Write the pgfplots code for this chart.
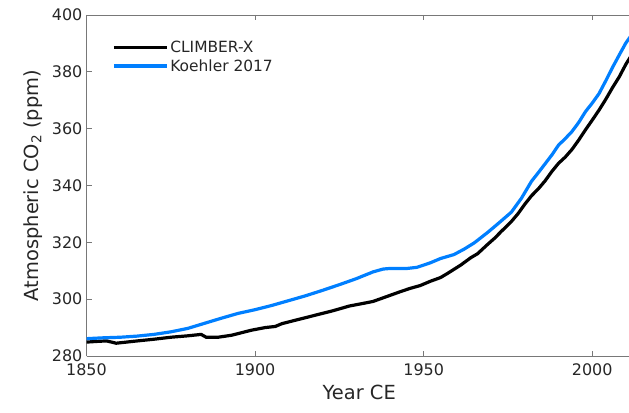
\documentclass[border=0pt]{standalone}
\usepackage{fontspec}
\setmainfont{DejaVu Sans}
\usepackage{pgfplots}
\pgfplotsset{compat=1.18}
\definecolor{koehler}{RGB}{0,127,255}
\definecolor{axgray}{RGB}{120,120,120}
\definecolor{txtgray}{RGB}{38,38,38}

\pgfplotstableread{
year co2
1850 284.9
1854 285.2
1856 285.3
1858.8 284.5
1865 285.3
1870 285.9
1875 286.6
1880 287.1
1884 287.6
1885.5 286.6
1889 286.6
1893 287.3
1896 288.2
1899 289.1
1903 290.0
1906 290.4
1908 291.4
1913 292.9
1918 294.4
1923 295.9
1928 297.6
1932 298.5
1935 299.2
1939 300.9
1943 302.6
1946 303.8
1949 304.8
1952 306.3
1955 307.6
1957 309.0
1959 310.5
1961 312.0
1964 314.6
1966 316.0
1969 319.3
1971 321.4
1973 323.8
1976 327.3
1978 330.1
1980 333.4
1982 336.4
1984 338.8
1986 341.6
1988 344.9
1990 347.8
1992 350.0
1994 352.7
1996 356.0
1998 359.6
2000 363.0
2002 366.5
2004 370.3
2006 374.4
2008 378.2
2010 382.7
2012 386.5
}\climber

\pgfplotstableread{
year co2
1850 286.1
1855 286.4
1860 286.6
1865 287.0
1870 287.6
1875 288.5
1880 289.7
1885 291.5
1890 293.3
1895 295.0
1900 296.3
1905 297.8
1910 299.5
1915 301.2
1920 303.1
1925 305.1
1930 307.2
1935 309.6
1938 310.6
1940 310.8
1945 310.8
1948 311.2
1952 312.8
1955 314.3
1959 315.7
1962 317.6
1965 319.8
1969 323.5
1972 326.5
1976 330.6
1979 335.5
1982 341.5
1984 344.5
1988 350.7
1990 354.2
1992 356.5
1994 359.0
1996 362.2
1998 366.0
2000 369.0
2002 372.3
2004 376.8
2006 381.5
2008 385.9
2010 390.2
2012 393.5
}\koehler

\begin{document}
\begin{tikzpicture}
\begin{axis}[
 scale only axis,
 width=545.5bp,height=341bp,
 xmin=1850,xmax=2011.8,ymin=280,ymax=400,
 axis y line*=left,
 y axis line style={-},
 xtick={1850,1900,1950,2000},
 ytick={280,300,...,400},
 tick align=inside,
 major tick length=5bp,
 axis line style={axgray,line width=0.7bp},
 tick style={axgray,line width=0.7bp},
 /pgf/number format/assume math mode=true,
 /pgf/number format/1000 sep={},
 tick label style={font=\fontsize{16}{19}\selectfont,text=txtgray,inner sep=1bp},
 xticklabel style={yshift=-6bp},
 yticklabel style={xshift=-3bp},
 label style={font=\fontsize{19.5}{23}\selectfont,text=txtgray},
 xlabel={Year CE},
 ylabel={Atmospheric CO\textsubscript{2} (ppm)},
 xlabel style={yshift=-5bp},
 ylabel style={yshift=5bp},
 legend style={at={(0.0467,0.935)},anchor=north west,draw=none,fill=none,
   font=\fontsize{15.5}{18}\selectfont,text=txtgray,inner xsep=0pt,
   row sep=1bp},
 legend cell align=left,
 legend image code/.code={\draw[#1] (0bp,0bp) -- (53bp,0bp);},
 clip=true,
]
\addplot[black,line width=3.2bp] table[x=year,y=co2]{\climber};
\addlegendentry{CLIMBER-X}
\addplot[koehler,line width=3.2bp] table[x=year,y=co2]{\koehler};
\addlegendentry{Koehler 2017}
\end{axis}
\pgfresetboundingbox
\path (-86.5bp,-57bp) rectangle (542.5bp,356bp);
\end{tikzpicture}
\end{document}
